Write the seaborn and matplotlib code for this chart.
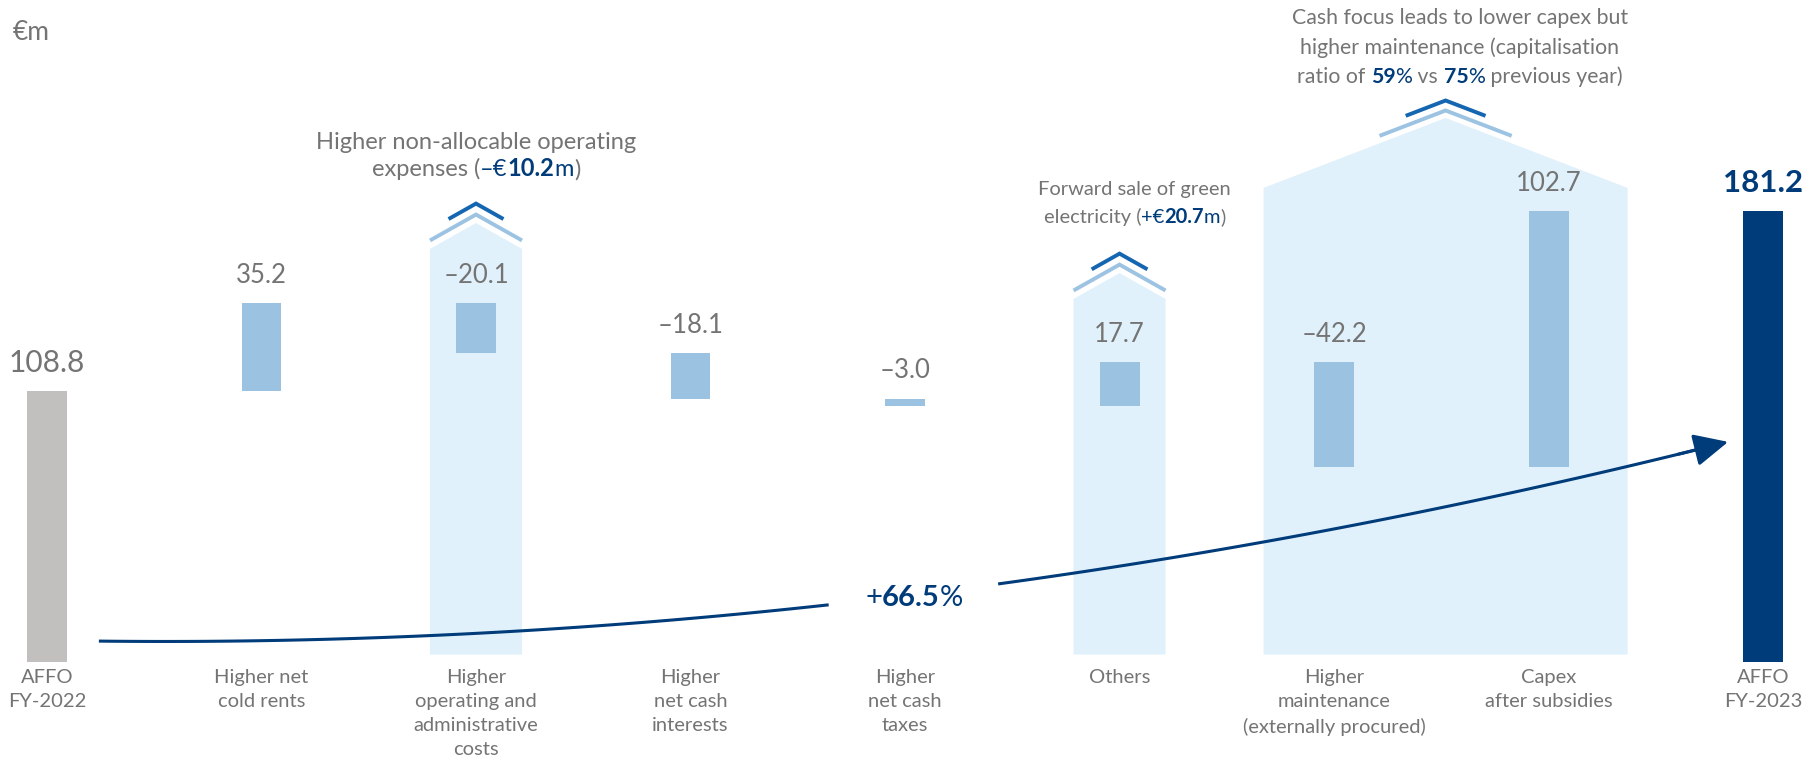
import numpy as np
import pandas as pd
import matplotlib
matplotlib.use("Agg")
import matplotlib.pyplot as plt
import seaborn as sns
from matplotlib.offsetbox import TextArea, HPacker, VPacker, AnnotationBbox

# Chart data
steps = ["AFFO\nFY-2022", "Higher net\ncold rents",
         "Higher\noperating and\nadministrative\ncosts",
         "Higher\nnet cash\ninterests", "Higher\nnet cash\ntaxes", "Others",
         "Higher\nmaintenance\n(externally procured)", "Capex\nafter subsidies",
         "AFFO\nFY-2023"]
start_value = 108.8
changes = [35.2, -20.1, -18.1, -3.0, 17.7, -42.2, 102.7]
end_value = 181.2
value_labels = ["108.8", "35.2", "–20.1", "–18.1", "–3.0", "17.7", "–42.2", "102.7", "181.2"]
growth_pct = "66.5"

# Colours
GREY_BAR = "#C1C0BF"
BLUE_BAR = "#9CC2E1"
NAVY = "#003B7A"
SHADE = "#E0F1FB"
CHEV_LIGHT = "#9DC3E3"
CHEV_DARK = "#1566B1"
TEXT = "#747474"

# Waterfall geometry
totals = start_value + np.cumsum(changes)
prev = np.concatenate([[start_value], totals[:-1]])
bottoms = np.concatenate([[0], np.minimum(prev, totals), [0]])
heights = np.concatenate([[start_value], np.abs(changes), [end_value]])
tops = bottoms + heights
bar_colors = [GREY_BAR] + [BLUE_BAR] * len(changes) + [NAVY]

df = pd.DataFrame({"step": steps, "height": heights})

sns.set_theme(style="white")
plt.rcParams["font.family"] = ["Lato", "DejaVu Sans"]

fig = plt.figure(figsize=(18.09, 7.64), dpi=100)
ax = fig.add_axes([0, 0, 1, 1])

sns.barplot(data=df, x="step", y="height", bottom=bottoms, width=0.186,
            color=BLUE_BAR, linewidth=0, ax=ax, zorder=2)
for patch, c in zip(ax.patches, bar_colors):
    patch.set_facecolor(c)
    patch.set_edgecolor("none")

ax.set_xlim(-0.219, 8.214)
ax.set_ylim(-40.96, 265.86)
ax.axis("off")

# Highlight "houses" behind groups: center, half width, eave, ridge, chevron half widths
houses = [
    (2.0, 0.2145, 165.9, 176.3, 0.2145, 0.128, 3.4, 7.8),
    (5.0, 0.2145, 145.8, 156.2, 0.2145, 0.130, 3.4, 7.8),
    (6.52, 0.8485, 190.4, 218.5, 0.308, 0.186, 3.0, 7.0),
]
base = 3.0
for cx, hw, eave, ridge, lh, dh, lift_l, lift_d in houses:
    ax.fill([cx - hw, cx - hw, cx, cx + hw, cx + hw],
            [base, eave, ridge, eave, base], color=SHADE, lw=0, zorder=0)
    slope = (ridge - eave) / hw
    for half, lift, col in [(lh, lift_l, CHEV_LIGHT), (dh, lift_d, CHEV_DARK)]:
        peak = ridge + lift
        ax.plot([cx - half, cx, cx + half],
                [peak - slope * half, peak, peak - slope * half],
                color=col, lw=2.8, solid_joinstyle="miter",
                solid_capstyle="butt", zorder=1)

# Value labels
for i, (lab, top) in enumerate(zip(value_labels, tops)):
    if i == len(value_labels) - 1:
        kw = dict(fontsize=22.5, fontweight="bold", color=NAVY)
    elif i == 0:
        kw = dict(fontsize=21.5, color=TEXT)
    else:
        kw = dict(fontsize=18.5, color=TEXT)
    ax.annotate(lab, (i, top), xytext=(0, 20), textcoords="offset points",
                ha="center", va="center", **kw)

# Category labels
for i, s in enumerate(steps):
    ax.text(i, -2.8, s, ha="center", va="top", fontsize=14.5, color=TEXT,
            linespacing=1.5)

ax.text(0.007, 0.958, "€m", transform=ax.transAxes, ha="left", va="center",
        fontsize=19, color=TEXT)


def rich(parts, size):
    return HPacker(children=[TextArea(t, textprops=dict(color=c, fontsize=size, fontweight=w))
                             for t, c, w in parts], pad=0, sep=0, align="baseline")


def rich_block(lines, x, y, size=15, sep=4):
    box = VPacker(children=[rich(l, size) for l in lines], pad=0, sep=sep, align="center")
    ab = AnnotationBbox(box, (x, y), frameon=False, box_alignment=(0.5, 0.5), pad=0)
    ab.set_zorder(4)
    ax.add_artist(ab)


G, N, R = TEXT, NAVY, "normal"
rich_block([[("Higher non-allocable operating", G, R)],
            [("expenses (", G, R), ("–€", N, R), ("10.2", N, "bold"),
             ("m", N, R), (")", G, R)]], 2.0, 203.2, size=17, sep=3.5)
rich_block([[("Forward sale of green", G, R)],
            [("electricity (", G, R), ("+€", N, R), ("20.7", N, "bold"),
             ("m", N, R), (")", G, R)]], 5.07, 183.9, size=14.5, sep=7)
rich_block([[("Cash focus leads to lower capex but", G, R)],
            [("higher maintenance (capitalisation", G, R)],
            [("ratio of ", G, R), ("59", N, "bold"), ("%", N, R),
             (" vs ", G, R), ("75", N, "bold"), ("%", N, R),
             (" previous year)", G, R)]], 6.587, 246.7, size=15.3, sep=6.5)
rich_block([[("+", N, R), (growth_pct, N, "bold"), ("%", N, R)]],
           4.042, 25.7, size=21)

# Growth arrow from start to end bar
P0, P1, P2 = np.array([0.242, 8.4]), np.array([3.977, 4.8]), np.array([7.837, 88.4])


def bez(t):
    t = np.asarray(t)[:, None]
    return (1 - t) ** 2 * P0 + 2 * t * (1 - t) * P1 + t ** 2 * P2


for t0, t1 in [(0.0, 0.452), (0.556, 0.985)]:
    pts = bez(np.linspace(t0, t1, 100))
    ax.plot(pts[:, 0], pts[:, 1], color=NAVY, lw=2.2, zorder=3, solid_capstyle="butt")
ax.annotate("", xy=P2, xytext=bez([0.97])[0],
            arrowprops=dict(arrowstyle="-|>,head_length=1.05,head_width=0.5",
                            mutation_scale=20, color=NAVY, lw=2.2,
                            shrinkA=0, shrinkB=0), zorder=3)

fig.savefig("out.png", dpi=100)
